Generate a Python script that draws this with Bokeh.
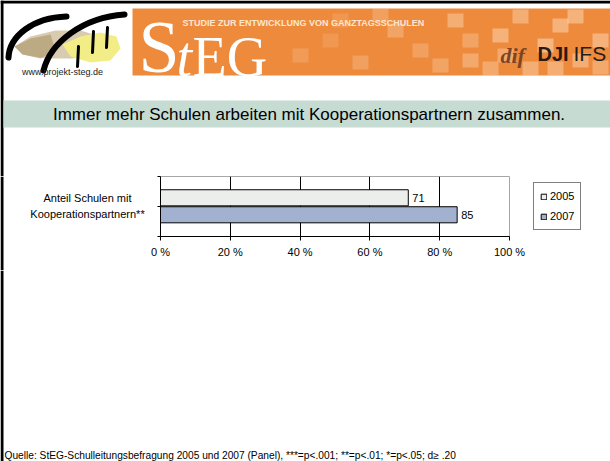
from bokeh.plotting import figure
from bokeh.models import Range1d, FixedTicker, LabelSet, ColumnDataSource, Legend, LegendItem
from bokeh.layouts import column, row
from bokeh.transform import dodge
from bokeh.core.properties import value
from bokeh.embed import file_html
from bokeh.resources import INLINE

# ---------------- data ----------------
categories = ["Anteil Schulen mit\nKooperationspartnern**"]
years = ["2005", "2007"]
values_2005 = [71]
values_2007 = [85]
x_ticks = [0, 20, 40, 60, 80, 100]
x_tick_labels = ["0 %", "20 %", "40 %", "60 %", "80 %", "100 %"]
title_text = "Immer mehr Schulen arbeiten mit Kooperationspartnern zusammen."
source_text = "Quelle: StEG-Schulleitungsbefragung 2005 und 2007 (Panel), ***=p<.001; **=p<.01; *=p<.05; d\u2265 .20"

FONT = "Liberation Sans"
SERIF = "Liberation Serif"
W, H = 610, 461
FL, FR, FT, FB = 160, 509, 176, 236      # chart frame edges in page pixels
ROW_B = 270                               # bottom of chart row
LAB_W = 150                               # width of the category-label column


def deco_fig(w, h, x0, x1, y_top, y_bot):
    f = figure(frame_width=w, frame_height=h, x_range=Range1d(x0, x1), y_range=Range1d(y_bot, y_top),
               output_backend="svg", toolbar_location=None, min_border=0,
               x_axis_location=None, y_axis_location=None)
    f.grid.visible = False
    f.outline_line_color = None
    f.background_fill_color = "white"
    f.border_fill_color = "white"
    return f


# ---------------- header (page coordinates) ----------------
hdr = deco_fig(W, FT, 0, W, 0, FT)
hdr.quad(left=[0, 0], right=[W, 3], top=[0, 0], bottom=[3, FT], fill_color="black", line_color=None)

# logo
hdr.patch([14, 30, 55, 80, 100, 108, 95, 70, 45, 22], [46, 36, 30, 30, 36, 46, 56, 58, 58, 54],
          fill_color="#d9cbb0", line_color=None)
hdr.patch([62, 80, 100, 116, 120, 110, 90, 70], [44, 36, 32, 36, 48, 60, 62, 56],
          fill_color="#f3ed88", line_color=None)
hdr.patch([14, 30, 50, 55, 40, 22], [46, 38, 34, 50, 58, 54],
          fill_color="#a89468", fill_alpha=0.6, line_color=None)
hdr.bezier(x0=[8, 43], y0=[57, 70], x1=[66, 124], y1=[16, 14],
           cx0=[9, 50], cy0=[36, 42], cx1=[32, 82], cy1=[17, 17],
           line_color="black", line_width=6, line_cap="round")
hdr.segment(x0=[78, 93, 107], y0=[46, 31, 27], x1=[77, 92, 106], y1=[66, 52, 47],
            line_color="black", line_width=3, line_cap="round")
hdr.text(x=[62], y=[71], text=["www.projekt-steg.de"], text_font=value(FONT),
         text_font_size="9px", text_align="center", text_baseline="middle", text_color="#222222")

# orange banner
hdr.quad(left=[132], right=[W], top=[8], bottom=[75], fill_color="#ee8a3c", line_color=None)
sq_x = [300, 330, 360, 395, 420, 455, 470, 500, 520, 545, 560, 580, 600, 440, 490, 530, 575, 380, 340, 600, 555, 505, 470]
sq_y = [55, 40, 62, 30, 50, 20, 60, 35, 16, 45, 25, 60, 40, 65, 68, 68, 16, 15, 20, 67, 68, 55, 40]
sq_a = [0.2, 0.15, 0.25, 0.3, 0.25, 0.4, 0.35, 0.45, 0.4, 0.5, 0.45, 0.4, 0.45, 0.3, 0.35, 0.4, 0.45, 0.25, 0.15, 0.35, 0.4, 0.35, 0.3]
hdr.rect(x=sq_x, y=sq_y, width=16, height=14, fill_color="#fde2c6", fill_alpha=sq_a, line_color=None)
hdr.text(x=[138], y=[46], text=["S"], text_font=value(SERIF), text_font_size="74px",
         text_color="white", text_baseline="middle")
hdr.text(x=[176], y=[56], text=["t"], text_font=value(SERIF), text_font_size="56px",
         text_font_style="italic", text_color="white", text_baseline="middle")
hdr.text(x=[192], y=[56], text=["EG"], text_font=value(SERIF), text_font_size="56px",
         text_color="white", text_baseline="middle")
hdr.text(x=[182], y=[22], text=["STUDIE ZUR ENTWICKLUNG VON GANZTAGSSCHULEN"], text_font=value(FONT),
         text_font_size="9px", text_font_style="bold", text_color="#fde6d0", text_baseline="middle")
hdr.text(x=[500], y=[55], text=["dif"], text_font=value(SERIF), text_font_size="22px",
         text_font_style="bold italic", text_color="#7a4425", text_baseline="middle")
hdr.text(x=[537], y=[53], text=["DJI"], text_font=value(FONT), text_font_size="20px",
         text_font_style="bold", text_color="#2b1a12", text_baseline="middle")
hdr.text(x=[573], y=[53], text=["IFS"], text_font=value(FONT), text_font_size="21px",
         text_color="#1e1e1e", text_baseline="middle")

# title band
hdr.quad(left=[3], right=[W], top=[100], bottom=[127], fill_color="#c6dbd2", line_color=None)
hdr.text(x=[308.5], y=[113.5], text=[title_text], text_font=value(FONT), text_font_size="17px",
         text_align="center", text_baseline="middle", text_color="#000000")

# ---------------- category label column ----------------
lab = deco_fig(LAB_W, ROW_B - FT, 0, LAB_W, FT, ROW_B)
lab.quad(left=[0], right=[3], top=[FT], bottom=[ROW_B], fill_color="black", line_color=None)
cat_lines = categories[0].split("\n")
lab.text(x=[87] * len(cat_lines), y=[197 + 16 * k for k in range(len(cat_lines))], text=cat_lines,
         text_font=value(FONT), text_font_size="11px", text_align="center", text_baseline="middle",
         text_color="black")

# ---------------- chart ----------------
p = figure(frame_width=FR - FL, frame_height=FB - FT, x_range=Range1d(0, 100), y_range=Range1d(-0.5, 0.5),
           output_backend="svg", toolbar_location=None,
           min_border_left=FL - LAB_W, min_border_right=W - FR,
           min_border_top=0, min_border_bottom=ROW_B - FB)
p.outline_line_color = "#a6a6a6"
p.background_fill_color = "white"
p.border_fill_color = "white"

src = ColumnDataSource(dict(y=list(range(len(categories))), v2005=values_2005, v2007=values_2007,
                            l2005=[str(v) for v in values_2005], l2007=[str(v) for v in values_2007]))

r1 = p.hbar(y=dodge("y", 0.145), right="v2005", left=0, height=0.268, source=src,
            fill_color="#eceeec", line_color="black", line_width=1)
r2 = p.hbar(y=dodge("y", -0.138), right="v2007", left=0, height=0.268, source=src,
            fill_color="#a3b1d1", line_color="black", line_width=1)

p.add_layout(LabelSet(x="v2005", y=dodge("y", 0.145), text="l2005", source=src, x_offset=4,
                      text_font=value(FONT), text_font_size="11px", text_baseline="middle",
                      text_color="black"))
p.add_layout(LabelSet(x="v2007", y=dodge("y", -0.138), text="l2007", source=src, x_offset=4,
                      text_font=value(FONT), text_font_size="11px", text_baseline="middle",
                      text_color="black"))

p.xaxis.ticker = FixedTicker(ticks=x_ticks)
p.xaxis.major_label_overrides = {t: l for t, l in zip(x_ticks, x_tick_labels)}
p.xaxis.major_label_text_font = FONT
p.xaxis.major_label_text_font_size = "11px"
p.xaxis.major_label_text_color = "black"
p.xaxis.major_label_standoff = 5
p.xaxis.major_tick_out = 4
p.xaxis.major_tick_in = 0
p.xaxis.minor_tick_line_color = None
p.xaxis.axis_line_color = "black"
p.xaxis.major_tick_line_color = "black"

p.yaxis.ticker = FixedTicker(ticks=[-0.5, 0, 0.5])
p.yaxis.major_label_overrides = {-0.5: "", 0: "", 0.5: ""}
p.yaxis.major_tick_out = 3
p.yaxis.major_tick_in = 0
p.yaxis.major_label_standoff = 0
p.yaxis.minor_tick_line_color = None
p.yaxis.axis_line_color = "black"
p.yaxis.major_tick_line_color = "black"
p.yaxis.major_label_text_font_size = "1px"

p.xgrid.ticker = FixedTicker(ticks=x_ticks[1:-1])
p.xgrid.grid_line_color = "black"
p.ygrid.grid_line_color = None

legend = Legend(items=[LegendItem(label=years[0], renderers=[r1]),
                       LegendItem(label=years[1], renderers=[r2])],
                location="center_left", margin=24, padding=6, spacing=6,
                glyph_width=7, glyph_height=7, label_height=14, label_standoff=3,
                label_text_font=FONT, label_text_font_size="11px", label_text_color="black",
                border_line_color="black", border_line_width=1, background_fill_color="white")
p.add_layout(legend, "right")

# ---------------- footer ----------------
ftr = deco_fig(W, H - ROW_B, 0, W, ROW_B, H)
ftr.quad(left=[0], right=[3], top=[ROW_B], bottom=[H], fill_color="black", line_color=None)
ftr.text(x=[4], y=[455], text=[source_text], text_font=value(FONT), text_font_size="10.2px",
         text_baseline="middle", text_color="#000000")

layout = column(hdr, row(lab, p, spacing=0), ftr, spacing=0)
open("out.html", "w").write(file_html(layout, INLINE))
